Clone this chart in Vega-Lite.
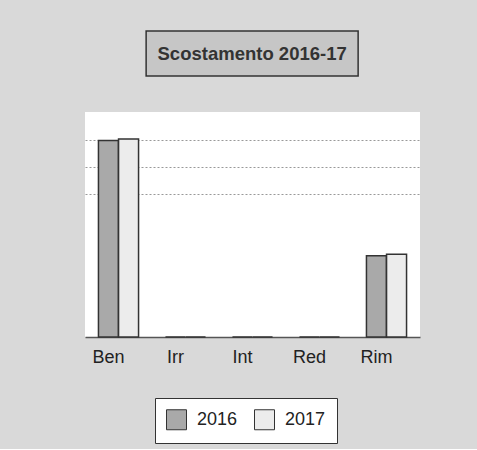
{
  "$schema": "https://vega.github.io/schema/vega-lite/v6.json",
  "background": "#d9d9d9",
  "padding": {"left": 85, "top": 30, "right": 57, "bottom": 5},
  "config": {
    "font": "Liberation Sans",
    "concat": {"spacing": 35}
  },
  "datasets": {
    "bars": [
      {"categoria": "Ben", "anno": "2016", "valore": 7.25},
      {"categoria": "Ben", "anno": "2017", "valore": 7.3},
      {"categoria": "Irr", "anno": "2016", "valore": 0},
      {"categoria": "Irr", "anno": "2017", "valore": 0},
      {"categoria": "Int", "anno": "2016", "valore": 0},
      {"categoria": "Int", "anno": "2017", "valore": 0},
      {"categoria": "Red", "anno": "2016", "valore": 0},
      {"categoria": "Red", "anno": "2017", "valore": 0},
      {"categoria": "Rim", "anno": "2016", "valore": 3.0},
      {"categoria": "Rim", "anno": "2017", "valore": 3.05}
    ]
  },
  "center": true,
  "vconcat": [
    {
      "width": 212,
      "height": 45,
      "view": {"fill": "#c6c6c6", "stroke": "#333333", "strokeWidth": 1.5},
      "data": {"values": [{"testo": "Scostamento 2016-17"}]},
      "mark": {"type": "text", "fontSize": 18.5, "fontWeight": "bold", "color": "#333333", "baseline": "middle", "align": "center"},
      "encoding": {"text": {"field": "testo", "type": "nominal"}}
    },
    {
      "width": 335,
      "height": 225,
      "view": {"fill": "#ffffff", "stroke": null},
      "data": {"name": "bars"},
      "mark": {"type": "bar", "stroke": "#333333", "strokeWidth": 1.5, "width": 20},
      "encoding": {
        "x": {
          "field": "categoria",
          "type": "nominal",
          "sort": ["Ben", "Irr", "Int", "Red", "Rim"],
          "scale": {"paddingInner": 0.4, "paddingOuter": 0.2},
          "axis": {
            "title": null,
            "labelAngle": 0,
            "labelFontSize": 18,
            "labelColor": "#222222",
            "labelPadding": 11,
            "labelOffset": -10,
            "ticks": false,
            "domainColor": "#555555",
            "domainWidth": 1.5
          }
        },
        "xOffset": {"field": "anno", "type": "nominal", "scale": {"paddingInner": 0, "paddingOuter": 0}},
        "y": {
          "field": "valore",
          "type": "quantitative",
          "scale": {"domain": [0, 8.3], "nice": false},
          "axis": {
            "title": null,
            "labels": false,
            "ticks": false,
            "domain": false,
            "values": [5.27, 6.27, 7.27],
            "gridColor": "#999999",
            "gridDash": [2, 2],
            "gridWidth": 1
          }
        },
        "fill": {
          "field": "anno",
          "type": "nominal",
          "scale": {"domain": ["2016", "2017"], "range": ["#a9a9a9", "#ececec"]},
          "legend": {
            "title": null,
            "orient": "none",
            "direction": "horizontal",
            "legendX": 70,
            "legendY": 367,
            "fillColor": "#ffffff",
            "strokeColor": "#333333",
            "padding": 11,
            "symbolType": "square",
            "symbolSize": 400,
            "symbolStrokeColor": "#333333",
            "symbolStrokeWidth": 1,
            "labelFontSize": 18,
            "labelOffset": 10,
            "labelColor": "#222222",
            "columnPadding": 14
          }
        }
      }
    }
  ]
}
